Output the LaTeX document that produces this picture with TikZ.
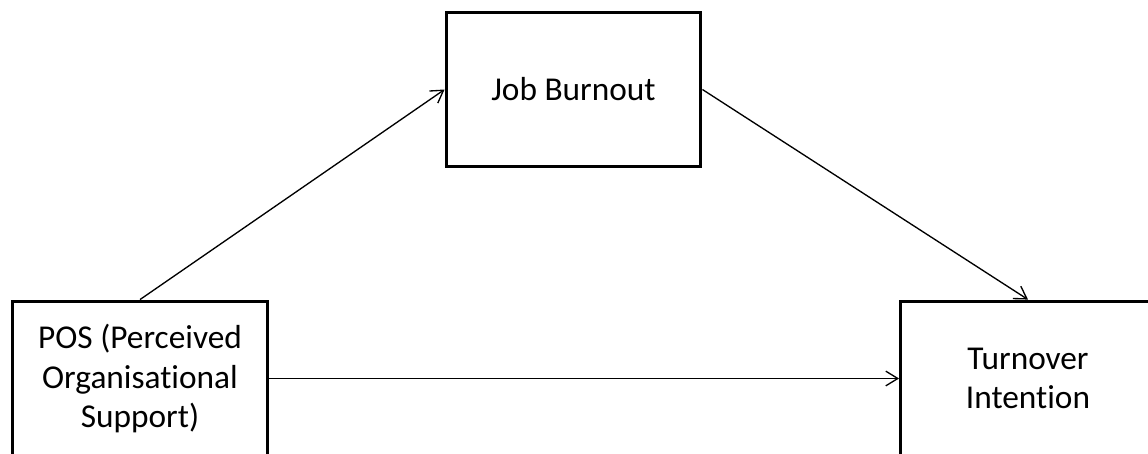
\documentclass[tikz,border=0pt]{standalone}
\usepackage{fontspec}
\setmainfont{Carlito}[Ligatures={NoCommon,NoContextual}]
\usetikzlibrary{arrows.meta}
\tikzset{
    >={Straight Barb[length=9pt,width=11pt]},
    model/.style={
        construct/.append style={align=center,draw,line width=2.4pt,rectangle,minimum width=191pt,minimum height=116pt,inner sep=0pt,font=\fontsize{25}{29.5}\selectfont},
        link/.append style={->,line width=1pt}
    }
}

\begin{document}
\begin{tikzpicture}[model,x=0.75pt,y=-0.75pt]
    \useasboundingbox (0,0) rectangle (1148,453);
    \node[construct] (pos) at (140,378.5) {POS (Perceived\\Organisational\\Support)};
    \node[construct] (jb) at (573.5,89.5) {Job Burnout};
    \node[construct] (ti) at (1028,378.5) {Turnover\\Intention};

    \draw[link] (pos.north) -- (jb.west);
    \draw[link] (jb.east) -- (ti.north);
    \draw[link] (pos) -- (ti);
\end{tikzpicture}
\end{document}
